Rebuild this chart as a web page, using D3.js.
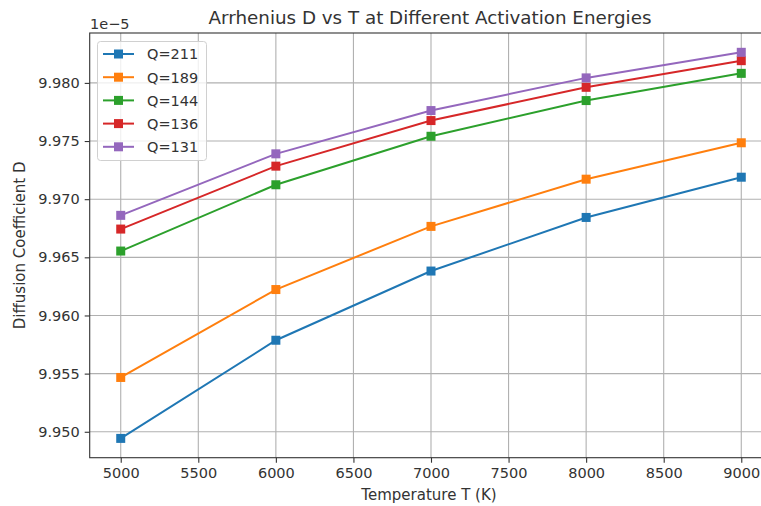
<!DOCTYPE html>
<html><head><meta charset="utf-8">
<script src="https://cdn.jsdelivr.net/npm/d3@7"></script>
<style>body{margin:0;background:#fff}svg{display:block;font-family:"DejaVu Sans",sans-serif}</style>
</head><body><svg id="c" width="761" height="506"></svg>
<script>
const temps = [5000, 6000, 7000, 8000, 9000];
const seriesNames = ["Q=211", "Q=189", "Q=144", "Q=136", "Q=131"];
const colors = ["#1f77b4", "#ff7f0e", "#2ca02c", "#d62728", "#9467bd"];
// values in units of 1e-5
const q211 = [9.94943, 9.95787, 9.96382, 9.96843, 9.97189];
const q189 = [9.95467, 9.96223, 9.96766, 9.97172, 9.97485];
const q144 = [9.96554, 9.97124, 9.97541, 9.97848, 9.98082];
const q136 = [9.96743, 9.97284, 9.97676, 9.97962, 9.98191];
const q131 = [9.96861, 9.97390, 9.97762, 9.98043, 9.98263];
const seriesValues = [q211, q189, q144, q136, q131];
const xTicks = [5000, 5500, 6000, 6500, 7000, 7500, 8000, 8500, 9000];
const yTicks = [9.950, 9.955, 9.960, 9.965, 9.970, 9.975, 9.980];

const svg = d3.select("#c");
const L = 89.7, R = 772.3, T = 33, B = 457.7;
const x = d3.scaleLinear().domain([4800, 9200]).range([L, R]);
const allV = seriesValues.flat();
const vmin = d3.min(allV), vmax = d3.max(allV), pad = (vmax - vmin) * 0.05;
const y = d3.scaleLinear().domain([vmin - pad, vmax + pad]).range([B, T]);

// grid
const g = svg.append("g");
g.selectAll(".gx").data(xTicks).join("line")
  .attr("x1", d => x(d)).attr("x2", d => x(d)).attr("y1", T).attr("y2", B)
  .attr("stroke", "#b0b0b0").attr("stroke-width", 1.1);
g.selectAll(".gy").data(yTicks).join("line")
  .attr("y1", d => y(d)).attr("y2", d => y(d)).attr("x1", L).attr("x2", R)
  .attr("stroke", "#b0b0b0").attr("stroke-width", 1.1);

// axes
const xAxis = d3.axisBottom(x).tickValues(xTicks).tickFormat(d3.format("d")).tickSize(5).tickPadding(5.5);
const yAxis = d3.axisLeft(y).tickValues(yTicks).tickFormat(d3.format(".3f")).tickSize(5).tickPadding(5);
const ax = svg.append("g").attr("transform", `translate(0,${B})`).call(xAxis);
const ay = svg.append("g").attr("transform", `translate(${L},0)`).call(yAxis);
[ax, ay].forEach(a => {
  a.select(".domain").remove();
  a.selectAll("line").attr("stroke", "#333").attr("stroke-width", 1.1);
  a.selectAll("text").attr("fill", "#333").style("font-size", "14.5px").style("font-family", "DejaVu Sans");
});

// spines
svg.append("rect").attr("x", L).attr("y", T).attr("width", R - L).attr("height", B - T)
  .attr("fill", "none").attr("stroke", "#333").attr("stroke-width", 1.1);

// series
const line = d3.line().x((d, i) => x(temps[i])).y(d => y(d));
seriesValues.forEach((vals, k) => {
  svg.append("path").datum(vals).attr("d", line).attr("fill", "none")
    .attr("stroke", colors[k]).attr("stroke-width", 2);
  svg.selectAll(".m" + k).data(vals).join("rect")
    .attr("x", (d, i) => x(temps[i]) - 4.5).attr("y", d => y(d) - 4.5)
    .attr("width", 9).attr("height", 9).attr("fill", colors[k]);
});

// legend
const lg = svg.append("g");
lg.append("rect").attr("x", 97.5).attr("y", 41.5).attr("width", 109).attr("height", 119).attr("rx", 3)
  .attr("fill", "#fff").attr("fill-opacity", 0.8).attr("stroke", "#d0d0d0").attr("stroke-width", 1);
seriesNames.forEach((n, k) => {
  const yy = 54 + k * 23.2;
  lg.append("line").attr("x1", 103).attr("x2", 134).attr("y1", yy).attr("y2", yy)
    .attr("stroke", colors[k]).attr("stroke-width", 2);
  lg.append("rect").attr("x", 118.5 - 4.5).attr("y", yy - 4.5).attr("width", 9).attr("height", 9).attr("fill", colors[k]);
  lg.append("text").attr("x", 147).attr("y", yy + 5.3).text(n)
    .style("font-size", "14.5px").attr("fill", "#333");
});

// texts
svg.append("text").attr("x", (L + R) / 2 - 1).attr("y", 24).attr("text-anchor", "middle")
  .style("font-size", "18.3px").attr("fill", "#333").text("Arrhenius D vs T at Different Activation Energies");
svg.append("text").attr("x", (L + R) / 2 - 2).attr("y", 500).attr("text-anchor", "middle")
  .style("font-size", "15px").attr("fill", "#333").text("Temperature T (K)");
svg.append("text").attr("transform", `translate(24.5,${(T + B) / 2}) rotate(-90)`).attr("text-anchor", "middle")
  .style("font-size", "15px").attr("fill", "#333").text("Diffusion Coefficient D");
svg.append("text").attr("x", 90).attr("y", 28.5).style("font-size", "14.5px").attr("fill", "#333").text("1e\u22125");
</script></body></html>
